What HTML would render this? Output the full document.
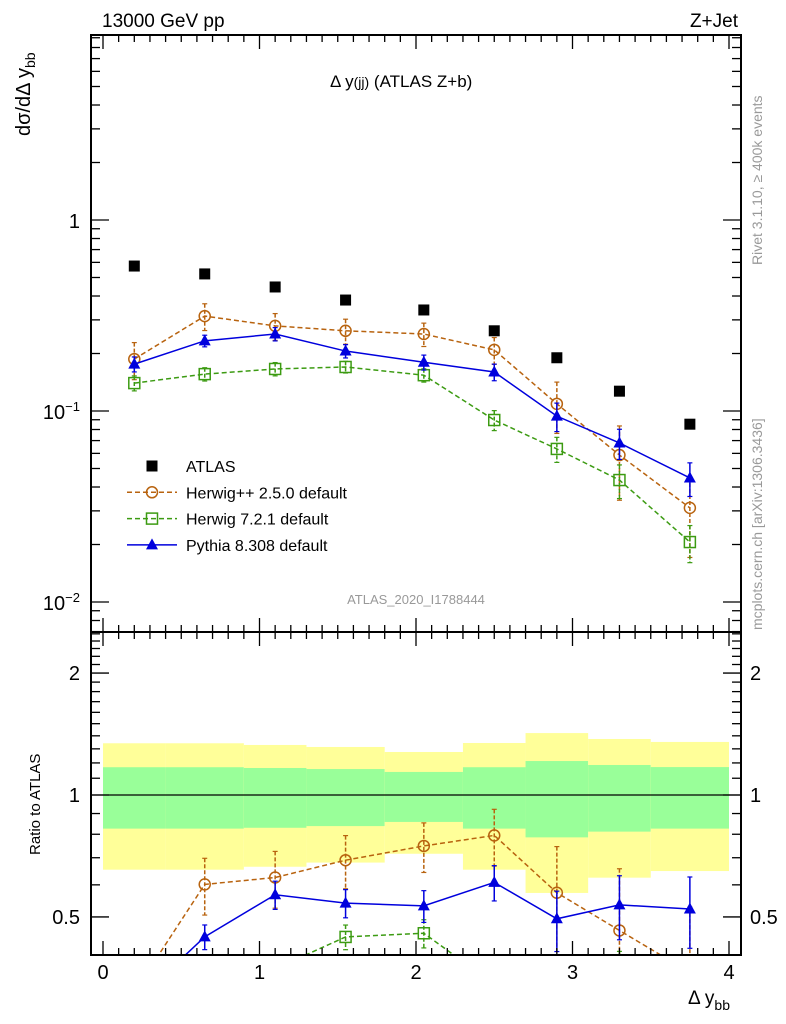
<!DOCTYPE html>
<html><head><meta charset="utf-8"><style>
html,body{margin:0;padding:0;background:#fff;overflow:hidden;width:786px;height:1024px}
svg{display:block;position:absolute;left:0;top:0;font-family:"Liberation Sans",sans-serif}
</style></head><body>
<svg id="chart" width="786" height="1024" viewBox="0 0 786 1024">
<defs>
<clipPath id="cm"><rect x="91" y="35" width="650" height="597"/></clipPath>
<clipPath id="cr"><rect x="91" y="632" width="650" height="323"/></clipPath>
</defs>
<g id="bands" clip-path="url(#cr)"></g>
<g id="main" clip-path="url(#cm)"></g>
<g id="ratio" clip-path="url(#cr)"></g>
<g id="axes"></g>
<text x="102" y="27" font-size="19">13000 GeV pp</text>
<text x="738" y="27" font-size="19" text-anchor="end">Z+Jet</text>
<text x="330" y="87" font-size="17">Δ y<tspan font-size="14">(jj)</tspan> (ATLAS Z+b)</text>
<text x="416" y="604" font-size="13" fill="#999" text-anchor="middle">ATLAS_2020_I1788444</text>
<text transform="translate(30,136) rotate(-90)" font-size="20">dσ/dΔ y<tspan font-size="14" dy="5">bb</tspan></text>
<text transform="translate(40,855) rotate(-90)" font-size="15">Ratio to ATLAS</text>
<text x="688" y="1004" font-size="19">Δ y<tspan font-size="14" dy="6">bb</tspan></text>
<text transform="translate(762,265) rotate(-90)" font-size="14" fill="#999">Rivet 3.1.10, ≥ 400k events</text>
<text transform="translate(762,630) rotate(-90)" font-size="14" fill="#999">mcplots.cern.ch [arXiv:1306.3436]</text>
<g id="legend"></g>
</svg>
<script>
const xCenters=[0.2,0.65,1.1,1.55,2.05,2.5,2.9,3.3,3.75];
const binEdges=[0,0.4,0.9,1.3,1.8,2.3,2.7,3.1,3.5,4.0];
const atlas=[0.574,0.522,0.446,0.381,0.338,0.263,0.190,0.127,0.0853];
const herwigpp=[0.187,0.314,0.279,0.263,0.253,0.209,0.109,0.0588,0.0311];
const herwigppErr=[0.22,0.16,0.16,0.15,0.14,0.16,0.30,0.42,0.45];
const herwig7=[0.140,0.156,0.166,0.170,0.154,0.0897,0.0633,0.0435,0.0206];
const herwig7Err=[0.09,0.08,0.08,0.07,0.08,0.12,0.15,0.2,0.22];
const pythia=[0.176,0.233,0.253,0.206,0.180,0.160,0.094,0.068,0.0446];
const pythiaErr=[0.09,0.07,0.08,0.08,0.09,0.1,0.17,0.18,0.2];
const yellowHi=[1.342,1.342,1.329,1.314,1.277,1.344,1.422,1.375,1.352];
const greenHi=[1.171,1.171,1.166,1.159,1.140,1.171,1.213,1.186,1.172];
const greenLo=[0.826,0.826,0.830,0.838,0.858,0.826,0.786,0.812,0.826];
const yellowLo=[0.654,0.654,0.665,0.681,0.716,0.654,0.573,0.625,0.649];

const NS='http://www.w3.org/2000/svg';
const X=v=>103+v*156.5;
const Y=v=>220-Math.log10(v)*191;
const R=v=>795-Math.log10(v)*405;
function mk(p,tag,at){const e=document.createElementNS(NS,tag);for(const k in at)e.setAttribute(k,at[k]);p.appendChild(e);return e;}
const gB=document.getElementById('bands'),gM=document.getElementById('main'),gR=document.getElementById('ratio'),gA=document.getElementById('axes'),gL=document.getElementById('legend');

for(let i=0;i<yellowHi.length;i++){
 const x0=X(binEdges[i]),w=X(binEdges[i+1])-x0;
 let e=mk(gB,'rect',{x:x0,y:R(yellowHi[i]),width:w,height:R(yellowLo[i])-R(yellowHi[i]),fill:'#ffff99'});
 
 
 e=mk(gB,'rect',{x:x0,y:R(greenHi[i]),width:w,height:R(greenLo[i])-R(greenHi[i]),fill:'#99ff99'});
 
 
}
let ln=mk(gB,'line',{x1:91,x2:741,y1:R(1),y2:R(1),stroke:'#000','stroke-width':1.2});



const series=[
 {name:'herwigpp',vals:herwigpp,err:herwigppErr,col:'#b8630f',dash:'5,3',m:'circle'},
 {name:'herwig7',vals:herwig7,err:herwig7Err,col:'#3c9b12',dash:'5,3',m:'square'},
 {name:'pythia',vals:pythia,err:pythiaErr,col:'#0000dd',dash:'',m:'tri'}];
function marker(g,m,x,y,col,name){
 let e;
 if(m==='circle')e=mk(g,'circle',{cx:x,cy:y,r:5.5,fill:'none',stroke:col,'stroke-width':1.5});
 else if(m==='square')e=mk(g,'rect',{x:x-5.5,y:y-5.5,width:11,height:11,fill:'none',stroke:col,'stroke-width':1.5});
 else if(m==='tri')e=mk(g,'polygon',{points:`${x},${y-6.5} ${x-6},${y+4.5} ${x+6},${y+4.5}`,fill:col});
 else e=mk(g,'rect',{x:x-5.5,y:y-5.5,width:11,height:11,fill:col});
 
 
}
function draw(g,F,s,ratio){
 const v=s.vals.map((d,i)=>ratio?d/atlas[i]:d);
 const pl=mk(g,'polyline',{points:v.map((d,i)=>X(xCenters[i])+','+F(d)).join(' '),fill:'none',stroke:s.col,'stroke-width':1.5,'stroke-dasharray':s.dash});
 
 
 v.forEach((d,i)=>{
  const x=X(xCenters[i]);
  const e=mk(g,'line',{x1:x,x2:x,y1:F(d*(1+s.err[i])),y2:F(d*(1-s.err[i])),stroke:s.col,'stroke-width':1.5,'stroke-dasharray':s.dash?'4,2':''});
  
  
  for(const yy of [F(d*(1+s.err[i])),F(d*(1-s.err[i]))]){
   const c=mk(g,'line',{x1:x-2.5,x2:x+2.5,y1:yy,y2:yy,stroke:s.col,'stroke-width':1.2});
   
   
  }
  marker(g,s.m,x,F(d),s.col,s.name+'-point');
 });
}
series.forEach(s=>{draw(gM,Y,s,false);draw(gR,R,s,true);});
atlas.forEach((d,i)=>marker(gM,'fsq',X(xCenters[i]),Y(d),'#000','atlas-point'));

for(const [y0,y1] of [[35,632],[632,955]]){
 const f=mk(gA,'rect',{x:91,y:y0,width:650,height:y1-y0,fill:'none',stroke:'#000','stroke-width':2});
 
 
}
function tk(x1,y1,x2,y2){
 const e=mk(gA,'line',{x1,y1,x2,y2,stroke:'#000','stroke-width':1.3});
 
 
}
function lab(x,y,t,a,sz,name){
 const e=mk(gA,'text',{x,y,'text-anchor':a,'font-size':sz});
 e.textContent=t;
 
 
 return e;
}
for(let k=0;k<=40;k++){const v=k/10;const x=X(v);const L=k%10===0?14:7;
 tk(x,955,x,955-L);tk(x,632,x,632+L);tk(x,632,x,632-L);tk(x,35,x,35+L);}
const xTickLabels=['0','1','2','3','4'];
xTickLabels.forEach((t,i)=>lab(X(i),979,t,'middle',20,'x-tick-label'));
for(let e=-3;e<=0;e++)for(let m=1;m<=9;m++){const v=m*Math.pow(10,e);const y=Y(v);if(y<35||y>632)continue;const L=m===1?18:9;tk(91,y,91+L,y);tk(741,y,741-L,y);}
lab(80,228,'1','end',20,'y-tick-label');
let t=lab(80,419,'10','end',20,'y-tick-label');let ts=mk(t,'tspan',{dy:-8,'font-size':13});ts.textContent='−1';
t=lab(80,610,'10','end',20,'y-tick-label');ts=mk(t,'tspan',{dy:-8,'font-size':13});ts.textContent='−2';
for(let k=5;k<=25;k++){const v=k/10;const y=R(v);if(y<632)continue;const L=(k===5||k===10||k===20)?18:9;tk(91,y,91+L,y);tk(741,y,741-L,y);}
const rTickLabels=['0.5','1','2'];const rTickVals=[0.5,1,2];
rTickVals.forEach((v,i)=>{lab(80,R(v)+7,rTickLabels[i],'end',20,'ratio-tick-label');lab(750,R(v)+7,rTickLabels[i],'start',20,'ratio-tick-label-right');});

const leg=[['ATLAS','fsq','#000',''],['Herwig++ 2.5.0 default','circle','#b8630f','5,3'],['Herwig 7.2.1 default','square','#3c9b12','5,3'],['Pythia 8.308 default','tri','#0000dd','']];
leg.forEach((l,i)=>{const y=466+i*26.3;
 if(i>0){
  const e=mk(gL,'line',{x1:127,x2:177,y1:y,y2:y,stroke:l[2],'stroke-width':1.5,'stroke-dasharray':l[3]});
  
  
 }
 marker(gL,l[1],152,y,l[2],'legend-marker');
 const tx=mk(gL,'text',{x:186,y:y+6,'font-size':16});
 tx.textContent=l[0];
 
 
});
</script>
</body></html>
